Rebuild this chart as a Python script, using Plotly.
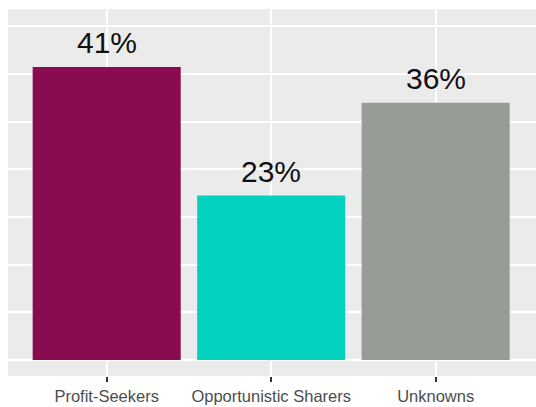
import plotly.graph_objects as go

categories = ["Profit-Seekers", "Opportunistic Sharers", "Unknowns"]
values = [41, 23, 36]
labels = ["41%", "23%", "36%"]
colors = ["#8A0C50", "#03D2BF", "#989C96"]

fig = go.Figure()
fig.add_trace(go.Bar(
    x=categories, y=values, width=0.9,
    marker=dict(color=colors, line=dict(width=0)),
))

for c, v, t in zip(categories, values, labels):
    fig.add_annotation(
        x=c, y=v, text=t, showarrow=False, yanchor="bottom", yshift=6,
        font=dict(family="Liberation Sans, Arial, sans-serif", size=30, color="#111111"),
    )

fig.update_layout(
    width=536, height=407,
    margin=dict(l=8, r=0, t=9, b=31, pad=0, autoexpand=False),
    paper_bgcolor="white", plot_bgcolor="#EBEBEB",
    showlegend=False, bargap=0.1,
    font=dict(family="Liberation Sans, Arial, sans-serif"),
    xaxis=dict(
        range=[-0.6, 2.61], showgrid=True, gridcolor="white", gridwidth=2,
        ticks="outside", ticklen=5, tickwidth=1.5, tickcolor="#333333", automargin=False,
        tickfont=dict(size=16.5, color="#4D4D4D"), showline=False, zeroline=False,
    ),
    yaxis=dict(
        range=[-2.24, 49.1], tick0=0, dtick=20/3, showgrid=True, gridcolor="white",
        automargin=False,
        gridwidth=2, showticklabels=False, ticks="", zeroline=False, showline=False,
    ),
)

fig.write_html("out.html")
